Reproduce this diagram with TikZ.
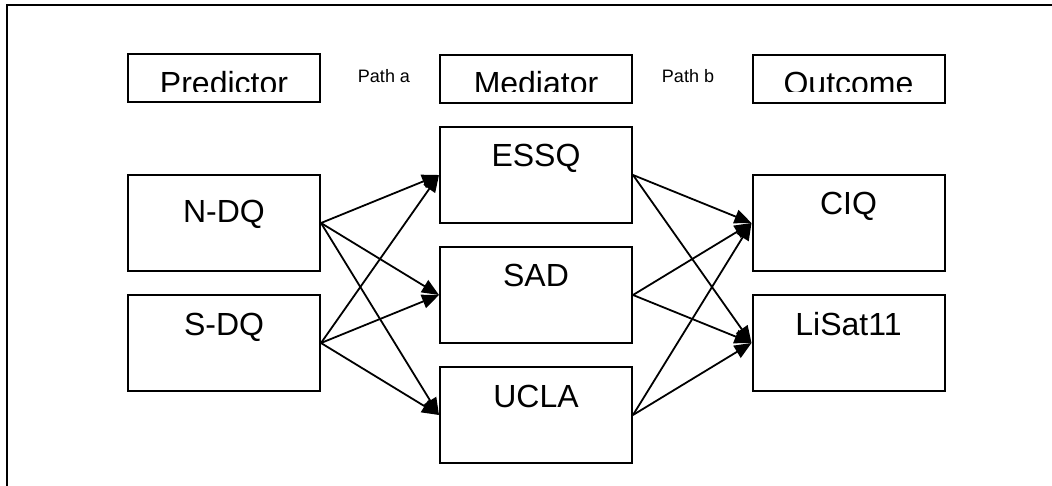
\documentclass[tikz,border=0pt]{standalone}
\usepackage{fontspec}
\setmainfont{Liberation Sans}
\usetikzlibrary{arrows.meta}
\begin{document}
\begin{tikzpicture}[x=1pt,y=-1pt,
  box/.style={draw=black,line width=2pt,rectangle,inner sep=0pt,
    minimum width=192pt,minimum height=96pt},
  headbox/.style={box,minimum height=48pt},
  lbl/.style={anchor=base,inner sep=0pt,font=\fontsize{32}{36}\selectfont},
  small/.style={anchor=base,inner sep=0pt,font=\fontsize{18}{21}\selectfont},
  arr/.style={line width=1.8pt,-{Triangle[length=17pt,width=14pt]}}]
\useasboundingbox (0,0) rectangle (1052,486);
% page frame (open at the bottom)
\draw[line width=2.6pt] (7,490) -- (7,5) -- (1056,5);

% column headings, text cut off by the box margin
\node[headbox] (pred) at (224,78) {};
\node[headbox] (med)  at (536,79) {};
\node[headbox] (outc) at (848.5,79) {};
\begin{scope}
  \clip (128,54) rectangle (320,92);
  \node[lbl] (predt) at (224,94.5) {Predictor};
\end{scope}
\begin{scope}
  \clip (440,55) rectangle (632,92);
  \node[lbl] (medt) at (536,94.5) {Mediator};
\end{scope}
\begin{scope}
  \clip (752,55) rectangle (945,92);
  \node[lbl] (outt) at (848.5,94.5) {Outcome};
\end{scope}
\node[small] (patha) at (384,83) {Path a};
\node[small] (pathb) at (688,83) {Path b};

% predictors
\node[box] (ndq) at (224,223) {};
\node[box] (sdq) at (224,343) {};
\node[lbl] at (224,223) {N-DQ};
\node[lbl] at (224,335) {S-DQ};

% mediators
\node[box] (essq) at (536,175) {};
\node[box] (sad)  at (536,295) {};
\node[box] (ucla) at (536,415) {};
\node[lbl] at (536,167) {ESSQ};
\node[lbl] at (536,287) {SAD};
\node[lbl] at (536,407) {UCLA};

% outcomes
\node[box] (ciq)   at (848.5,223) {};
\node[box] (lisat) at (848.5,343) {};
\node[lbl] at (848.5,215) {CIQ};
\node[lbl] at (848.5,335) {LiSat11};

% path a
\foreach \p in {ndq,sdq}
  \foreach \m in {essq,sad,ucla}
    \draw[arr] (\p.east) -- (\m.west);
% path b
\foreach \m in {essq,sad,ucla}
  \foreach \o in {ciq,lisat}
    \draw[arr] (\m.east) -- (\o.west);
\end{tikzpicture}
\end{document}
